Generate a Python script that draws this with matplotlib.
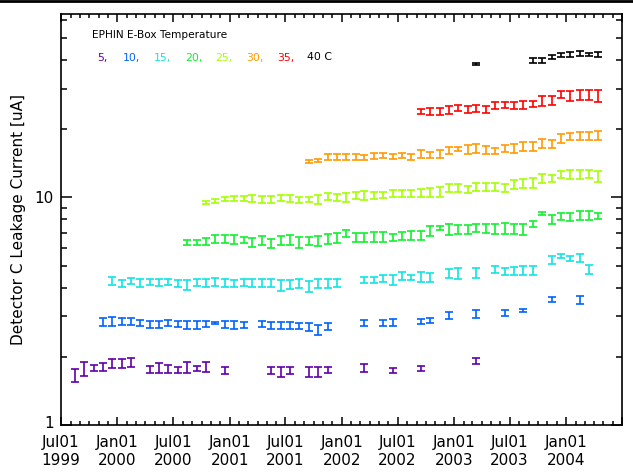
import matplotlib
matplotlib.use('Agg')
import matplotlib.pyplot as plt
import matplotlib.dates as mdates
import matplotlib.transforms as mtrans
from matplotlib.ticker import LogLocator, NullFormatter, FixedLocator, FixedFormatter
from matplotlib.lines import Line2D
from datetime import date

# ---------------- data (month index: 0 = Jul 1999) ----------------
temps = ['5,', '10,', '15,', '20,', '25,', '30,', '35,', '40 C']
colors = ['#6000A8', '#0062FF', '#10E4E4', '#10F030', '#A4FF00', '#FF9A00', '#FF0000', '#000000']

m05 = [1, 2, 3, 4, 5, 6, 7, 9, 10, 11, 12, 13, 14, 15, 17, 22, 23, 24, 26, 27, 28, 32, 35, 38, 44]
v05 = [1.66, 1.77, 1.78, 1.80, 1.86, 1.86, 1.88, 1.75, 1.78, 1.77, 1.75, 1.80, 1.77, 1.80, 1.74,
       1.74, 1.71, 1.74, 1.71, 1.71, 1.75, 1.78, 1.74, 1.77, 1.91]
e05 = [0.11, 0.13, 0.06, 0.08, 0.085, 0.085, 0.085, 0.065, 0.09, 0.07, 0.05, 0.10, 0.04, 0.09, 0.065,
       0.065, 0.09, 0.065, 0.09, 0.09, 0.05, 0.065, 0.045, 0.05, 0.05]

m10 = [4, 5, 6, 7, 8, 9, 10, 11, 12, 13, 14, 15, 16, 17, 18, 19, 21, 22, 23, 24, 25, 26, 27, 28,
       32, 34, 35, 38, 39, 41, 44, 47, 49, 52, 55]
v10 = [2.83, 2.85, 2.85, 2.85, 2.80, 2.77, 2.77, 2.80, 2.78, 2.75, 2.75, 2.78, 2.80, 2.77, 2.75,
       2.75, 2.78, 2.73, 2.73, 2.73, 2.73, 2.70, 2.62, 2.72, 2.80, 2.80, 2.82, 2.85, 2.88, 3.04,
       3.08, 3.10, 3.18, 3.57, 3.55]
e10 = [0.12, 0.13, 0.10, 0.10, 0.09, 0.10, 0.10, 0.08, 0.08, 0.12, 0.12, 0.08, 0.03, 0.10, 0.10,
       0.09, 0.09, 0.10, 0.10, 0.10, 0.09, 0.11, 0.13, 0.10, 0.08, 0.09, 0.09, 0.07, 0.06, 0.11,
       0.12, 0.10, 0.05, 0.09, 0.15]

m15 = list(range(5, 30)) + list(range(32, 40)) + [41, 42, 44, 46, 47, 48, 49, 50, 52, 53, 54, 55, 56]
v15 = [4.29, 4.18, 4.31, 4.20, 4.25, 4.24, 4.24, 4.18, 4.12, 4.24, 4.21, 4.25, 4.21, 4.18, 4.24,
       4.22, 4.22, 4.22, 4.11, 4.15, 4.17, 4.08, 4.20, 4.21, 4.22,
       4.33, 4.33, 4.40, 4.33, 4.52, 4.43, 4.47, 4.45, 4.64, 4.66, 4.67, 4.82, 4.73, 4.75, 4.77,
       4.77, 5.31, 5.53, 5.38, 5.42, 4.83]
e15 = [0.18, 0.14, 0.13, 0.16, 0.11, 0.16, 0.13, 0.14, 0.20, 0.16, 0.17, 0.18, 0.17, 0.14, 0.16,
       0.18, 0.18, 0.18, 0.21, 0.18, 0.19, 0.22, 0.18, 0.19, 0.18,
       0.14, 0.14, 0.15, 0.22, 0.19, 0.11, 0.23, 0.21, 0.22, 0.26, 0.24, 0.18, 0.18, 0.20, 0.22,
       0.22, 0.20, 0.09, 0.13, 0.21, 0.20]

m20 = list(range(13, 58))
v20 = [6.35, 6.37, 6.43, 6.56, 6.56, 6.56, 6.50, 6.35, 6.45, 6.28, 6.50, 6.50, 6.33, 6.43, 6.47,
       6.59, 6.62, 6.93, 6.67, 6.67, 6.70, 6.70, 6.67, 6.77, 6.79, 6.83, 7.11, 7.31, 7.23, 7.25,
       7.25, 7.36, 7.30, 7.30, 7.31, 7.30, 7.25, 7.64, 8.48, 8.01, 8.28, 8.20, 8.34, 8.32, 8.32]
e20 = [0.14, 0.16, 0.23, 0.25, 0.25, 0.31, 0.20, 0.31, 0.30, 0.31, 0.30, 0.31, 0.34, 0.27, 0.33,
       0.33, 0.33, 0.23, 0.32, 0.32, 0.34, 0.34, 0.26, 0.29, 0.32, 0.32, 0.37, 0.15, 0.40, 0.31,
       0.31, 0.31, 0.32, 0.37, 0.39, 0.37, 0.43, 0.21, 0.14, 0.34, 0.29, 0.33, 0.42, 0.39, 0.24]

m25 = list(range(15, 58))
v25 = [9.50, 9.67, 9.85, 9.88, 9.88, 9.88, 9.78, 9.78, 9.90, 9.88, 9.75, 9.80, 9.80, 10.07, 10.0,
       9.98, 10.2, 10.2, 10.2,
       10.27, 10.38, 10.38, 10.38, 10.45, 10.5, 10.56, 10.99, 11.0, 10.84, 11.1, 11.1, 11.1, 11.0,
       11.4, 11.55, 11.55, 12.15, 12.1, 12.6, 12.6, 12.6, 12.7, 12.4]
e25 = [0.12, 0.22, 0.22, 0.23, 0.25, 0.33, 0.33, 0.33, 0.30, 0.33, 0.30, 0.25, 0.41, 0.37, 0.37,
       0.43, 0.34, 0.46, 0.34,
       0.29, 0.35, 0.35, 0.35, 0.40, 0.45, 0.50, 0.42, 0.47, 0.36, 0.45, 0.45, 0.45, 0.48, 0.52,
       0.53, 0.58, 0.58, 0.40, 0.41, 0.57, 0.57, 0.56, 0.69]

m30 = list(range(26, 58))
v30 = [14.4, 14.5, 15.1, 15.1, 15.1, 15.1, 15.0, 15.2,
       15.3, 15.2, 15.3, 15.05, 15.5, 15.4, 15.5, 16.1, 16.3, 16.3, 16.4, 16.2, 16.0, 16.4, 16.4,
       16.7, 16.7, 17.2, 17.2, 18.2, 18.5, 18.7, 18.7, 18.7]
e30 = [0.2, 0.2, 0.45, 0.45, 0.45, 0.45, 0.4, 0.45,
       0.36, 0.39, 0.39, 0.46, 0.62, 0.43, 0.62, 0.53, 0.38, 0.71, 0.78, 0.68, 0.53, 0.62, 0.77,
       0.76, 0.76, 0.78, 0.73, 0.78, 0.62, 0.76, 0.76, 0.80]

m35 = list(range(38, 58))
v35 = [23.9, 23.9, 23.9, 24.2, 24.7, 24.4, 24.6, 24.4, 25.3, 25.5, 25.3, 25.5, 25.8, 26.6, 26.8,
       28.3, 28.0, 28.2, 28.3, 28.0]
e35 = [0.6, 0.77, 0.8, 1.02, 0.82, 0.8, 0.93, 0.8, 0.84, 0.85, 0.84, 0.95, 0.87, 1.25, 1.2,
       1.05, 1.5, 1.33, 1.42, 1.61]

m40 = [44, 50, 51, 52, 53, 54, 55, 56, 57]
v40 = [38.6, 39.9, 39.9, 41.5, 42.3, 42.6, 42.9, 42.3, 42.6]
e40 = [0.3, 1.1, 1.0, 0.84, 0.93, 0.98, 0.95, 0.64, 1.08]

xtick_labels = ['Jul01\n1999', 'Jan01\n2000', 'Jul01\n2000', 'Jan01\n2001', 'Jul01\n2001',
                'Jan01\n2002', 'Jul01\n2002', 'Jan01\n2003', 'Jul01\n2003', 'Jan01\n2004', '']

series = [(m05, v05, e05), (m10, v10, e10), (m15, v15, e15), (m20, v20, e20),
          (m25, v25, e25), (m30, v30, e30), (m35, v35, e35), (m40, v40, e40)]


def month_date(m, day=15):
    y = 1999 + (6 + m) // 12
    mo = (6 + m) % 12 + 1
    return date(y, mo, day)


plt.rcParams['font.family'] = ['DejaVu Sans']
W, H = 633, 473
fig = plt.figure(figsize=(W / 100, H / 100), dpi=100)
ax = fig.add_axes([61 / W, (H - 425) / H, (622 - 61) / W, (425 - 14) / H])

for (ms, vs, es), c in zip(series, colors):
    xs = [month_date(m) for m in ms]
    ax.errorbar(xs, vs, yerr=es, fmt='none', ecolor=c, elinewidth=1.2,
                capsize=2.6, capthick=1.2)

ax.set_yscale('log')
ax.set_ylim(1, 64)
ax.set_xlim(date(1999, 7, 1), date(2004, 7, 1))

major_dates = [month_date(6 * i, 1) for i in range(11)]
ax.xaxis.set_major_locator(FixedLocator(mdates.date2num(major_dates)))
ax.xaxis.set_major_formatter(FixedFormatter(xtick_labels))
ax.xaxis.set_minor_locator(mdates.MonthLocator())

ax.yaxis.set_major_locator(FixedLocator([1, 10]))
ax.yaxis.set_major_formatter(FixedFormatter(['1', '10']))
ax.yaxis.set_minor_locator(LogLocator(base=10, subs=range(2, 10)))
ax.yaxis.set_minor_formatter(NullFormatter())

ax.tick_params(axis='both', which='both', direction='in', top=True, right=True,
               width=1.1, colors='black')
ax.tick_params(axis='x', which='major', length=5.5, pad=7, labelsize=11)
ax.tick_params(axis='x', which='minor', length=3)
ax.tick_params(axis='y', which='major', length=8, pad=5, labelsize=11)
ax.tick_params(axis='y', which='minor', length=4.5)
for sp in ax.spines.values():
    sp.set_linewidth(1.2)

for lbl in ax.get_xticklabels():
    lbl.set_linespacing(1.25)
lift = mtrans.offset_copy(ax.get_yaxis_transform(), fig=fig, x=0, y=3, units='dots')
for lbl in ax.get_yticklabels():
    if lbl.get_text() == '1':
        lbl.set_transform(lbl.get_transform() + mtrans.ScaledTranslation(0, 3 / 100, fig.dpi_scale_trans))

ax.set_ylabel('Detector C Leakage Current [uA]', fontsize=11, labelpad=6)

# legend text
fig.text(92 / W, 1 - 35 / H, 'EPHIN E-Box Temperature', fontsize=7.6, va='center', ha='left')
leg_x = [97, 123, 154, 185, 215, 246, 277, 307]
for t, c, xp in zip(temps, colors, leg_x):
    fig.text(xp / W, 1 - 57.5 / H, t, fontsize=7.8, color=c, va='center', ha='left')

# top border line
fig.add_artist(Line2D([0, 1], [1 - 1 / H, 1 - 1 / H], color='black', lw=2,
                      transform=fig.transFigure))

fig.savefig('out.png', dpi=100)
